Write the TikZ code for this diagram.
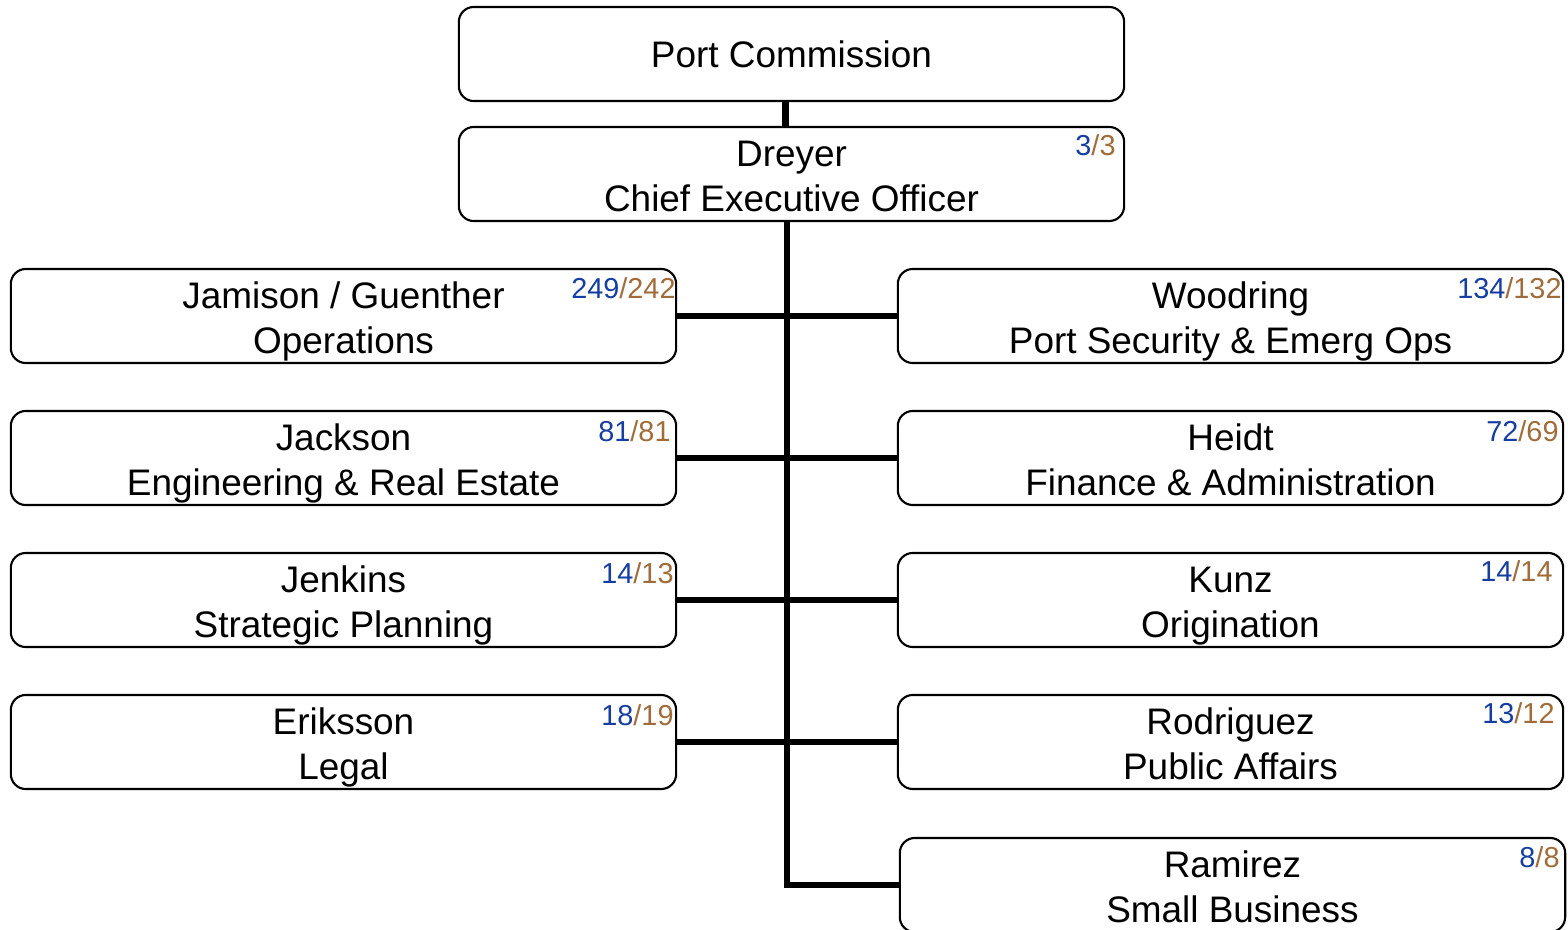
\documentclass[tikz,border=0pt]{standalone}
\usepackage{fontspec}
\setmainfont{Liberation Sans}
\definecolor{budget}{RGB}{22, 62, 160}
\definecolor{actual}{RGB}{160, 108, 58}

\begin{document}
\begin{tikzpicture}[x=0.01cm, y=-0.01cm,
	unit/.style={draw=black, line width=0.6pt, rounded corners=0.15cm, minimum width=6.65cm, minimum height=0.94cm, inner sep=0pt, align=center, font=\fontsize{10.5}{12.8}\selectfont},
	twoline/.style={unit, text height=23.6pt, text depth=2.5pt},
	count/.style={anchor=north east, inner sep=0pt, font=\fontsize{8.2}{9}\selectfont},
	link/.style={line width=1.8pt}]
			\useasboundingbox (0, 0) rectangle (1568, 930);
			\node[unit] (board) at (791.5, 54) {Port Commission};
			\node[twoline] (ceo) at (791.5, 174) {Dreyer\\Chief Executive Officer};
			\node[twoline] (ops) at (343.5, 316) {Jamison / Guenther\\Operations};
			\node[twoline] (eng) at (343.5, 458) {Jackson\\Engineering \& Real Estate};
			\node[twoline] (plan) at (343.5, 600) {Jenkins\\Strategic Planning};
			\node[twoline] (legal) at (343.5, 742) {Eriksson\\Legal};
			\node[twoline] (sec) at (1230.5, 316) {Woodring\\Port Security \& Emerg Ops};
			\node[twoline] (fin) at (1230.5, 458) {Heidt\\Finance \& Administration};
			\node[twoline] (orig) at (1230.5, 600) {Kunz\\Origination};
			\node[twoline] (pa) at (1230.5, 742) {Rodriguez\\Public Affairs};
			\node[twoline] (sb) at (1232.5, 885) {Ramirez\\Small Business};
			\node[count] (ceon) at ([xshift=-0.09cm, yshift=-0.08cm]ceo.north east) {\textcolor{budget}{3}\textcolor{actual}{/3}};
			\node[count] (opsn) at ([xshift=-0.01cm, yshift=-0.09cm]ops.north east) {\textcolor{budget}{249}\textcolor{actual}{/242}};
			\node[count] (engn) at ([xshift=-0.06cm, yshift=-0.1cm]eng.north east) {\textcolor{budget}{81}\textcolor{actual}{/81}};
			\node[count] (plann) at ([xshift=-0.03cm, yshift=-0.1cm]plan.north east) {\textcolor{budget}{14}\textcolor{actual}{/13}};
			\node[count] (legaln) at ([xshift=-0.03cm, yshift=-0.1cm]legal.north east) {\textcolor{budget}{18}\textcolor{actual}{/19}};
			\node[count] (secn) at ([xshift=-0.02cm, yshift=-0.09cm]sec.north east) {\textcolor{budget}{134}\textcolor{actual}{/132}};
			\node[count] (finn) at ([xshift=-0.05cm, yshift=-0.1cm]fin.north east) {\textcolor{budget}{72}\textcolor{actual}{/69}};
			\node[count] (orign) at ([xshift=-0.11cm, yshift=-0.08cm]orig.north east) {\textcolor{budget}{14}\textcolor{actual}{/14}};
			\node[count] (pan) at ([xshift=-0.09cm, yshift=-0.08cm]pa.north east) {\textcolor{budget}{13}\textcolor{actual}{/12}};
			\node[count] (sbn) at ([xshift=-0.06cm, yshift=-0.09cm]sb.north east) {\textcolor{budget}{8}\textcolor{actual}{/8}};
			\draw[link] ([xshift=-0.06cm]board.south) -- ([xshift=-0.06cm]ceo.north);
			\draw[link] ([xshift=-0.045cm]ceo.south) |- (sb.west);
			\draw[link] (ops.east) -- (sec.west);
			\draw[link] (eng.east) -- (fin.west);
			\draw[link] (plan.east) -- (orig.west);
			\draw[link] (legal.east) -- (pa.west);
		\end{tikzpicture}
\end{document}
